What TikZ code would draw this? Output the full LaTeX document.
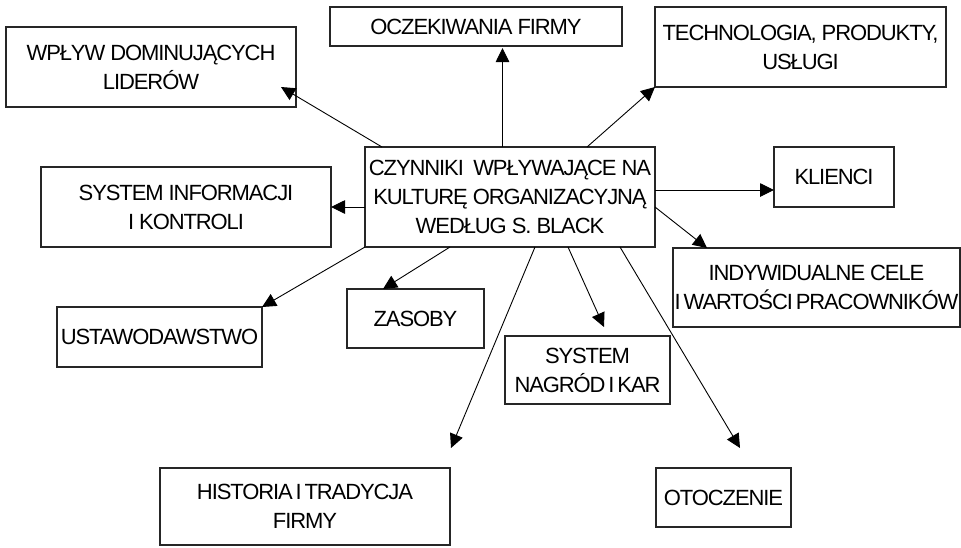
\documentclass[tikz,border=0pt]{standalone}
\usepackage{fontspec}
\setmainfont[LetterSpace=-5]{Liberation Sans}
\usetikzlibrary{arrows.meta,calc}

% narrow word spaces for the tightly set labels
\newcommand\narrowspaces{\spaceskip=0.13em plus 0.05em\relax}

\tikzset{
  box/.style={draw=black!85, line width=1.1pt, inner sep=0pt, outer sep=0pt,
              align=center, font=\fontsize{22}{29}\selectfont},
  tight/.style={execute at begin node=\narrowspaces},
  link/.style={draw=black, line width=0.9pt,
               -{Triangle[length=14pt,width=13.5pt]}}
}

\begin{document}
\begin{tikzpicture}[x=1pt,y=-1pt]
  \useasboundingbox (0,0) rectangle (961,547);

  % central factor box
  \node[box, minimum width=290, minimum height=100] (core) at (510,197)
    {CZYNNIKI\hspace{0.2em} WPŁYWAJĄCE NA\\KULTURĘ ORGANIZACYJNĄ\\WEDŁUG S. BLACK};

  % surrounding factors
  \node[box, minimum width=290, minimum height=80] (lead) at (151,67)
    {WPŁYW DOMINUJĄCYCH\\LIDERÓW};
  \node[box, minimum width=292, minimum height=39] (expect) at (476,26.5)
    {OCZEKIWANIA FIRMY};
  \node[box, minimum width=291, minimum height=80] (tech) at (800.5,47)
    {TECHNOLOGIA, PRODUKTY,\\USŁUGI};
  \node[box, minimum width=290, minimum height=80] (info) at (186,207)
    {SYSTEM INFORMACJI\\I KONTROLI};
  \node[box, minimum width=120, minimum height=60] (clients) at (834,177)
    {KLIENCI};
  \node[box, minimum width=287, minimum height=79] (goals) at (816.5,287.5)
    {INDYWIDUALNE CELE\\\narrowspaces I WARTOŚCI PRACOWNIKÓW};
  \node[box, minimum width=205, minimum height=60] (law) at (159.5,337)
    {USTAWODAWSTWO};
  \node[box, minimum width=137, minimum height=59] (res) at (415.5,318.5)
    {ZASOBY};
  \node[box, tight, minimum width=165, minimum height=68] (rewards) at (587.5,370)
    {SYSTEM\\NAGRÓD I KAR};
  \node[box, tight, minimum width=290, minimum height=77] (history) at (305,506.5)
    {HISTORIA I TRADYCJA\\FIRMY};
  \node[box, minimum width=135, minimum height=59] (env) at (723.5,497.5)
    {OTOCZENIE};

  % arrow heads that stop short of (or inside) their boxes
  \coordinate (leadEnd)    at ($(lead.south east)+(-15,-20)$);
  \coordinate (expectEnd)  at ($(expect.south)+(26.5,2)$);
  \coordinate (clientsEnd) at ($(clients.west)+(0,13)$);
  \coordinate (goalsEnd)   at ($(goals.north west)+(34,0)$);
  \coordinate (resEnd)     at ($(res.north west)+(36,0)$);
  \coordinate (histEnd)    at ($(history.north east)+(1,-20)$);
  \coordinate (rewEnd)     at ($(rewards.north)+(16.5,-9)$);
  \coordinate (envEnd)     at ($(env.north)+(16.5,-20)$);

  % connectors leaving the central box
  \draw[link] ($(core.north west)+(17,0)$)  -- (leadEnd);
  \draw[link] ($(core.north)+(-7.5,0)$)     -- (expectEnd);
  \draw[link] ($(core.north east)+(-68,0)$) -- (tech.south west);
  \draw[link] ($(core.north east)+(0,43)$)  -- (clientsEnd);
  \draw[link] ($(core.north east)+(0,60)$)  -- (goalsEnd);
  \draw[link] ($(core.north west)+(0,60)$)  -- (info.east);
  \draw[link] (core.south west)             -- (law.north east);
  \draw[link] ($(core.south west)+(85,0)$)  -- (resEnd);
  \draw[link] ($(core.south west)+(170,0)$) -- (histEnd);
  \draw[link] ($(core.south west)+(203,0)$) -- (rewEnd);
  \draw[link] ($(core.south west)+(255,0)$) -- (envEnd);
\end{tikzpicture}
\end{document}
